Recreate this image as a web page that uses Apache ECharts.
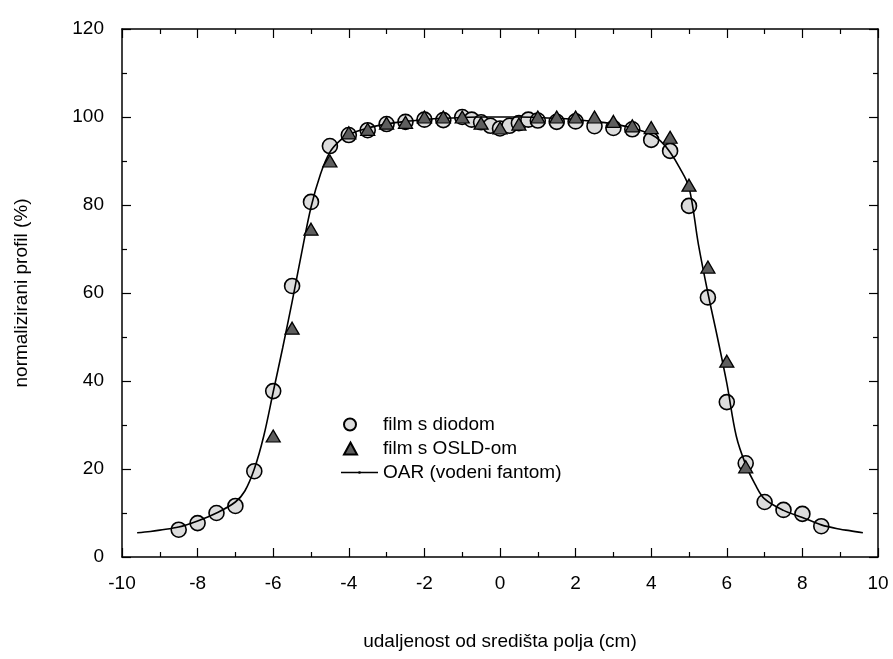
<!DOCTYPE html>
<html>
<head>
<meta charset="utf-8">
<script src="https://cdn.jsdelivr.net/npm/echarts@6/dist/echarts.min.js"></script>
<style>
html,body{margin:0;padding:0;background:#fff;}
#c{width:893px;height:659px;}
</style>
</head>
<body>
<div id="c"></div>
<script>
// film s diodom (circles)
const diodeX = [-8.5,-8,-7.5,-7,-6.5,-6,-5.5,-5,-4.5,-4,-3.5,-3,-2.5,-2,-1.5,-1,-0.75,-0.5,-0.25,0,0.25,0.5,0.75,1,1.5,2,2.5,3,3.5,4,4.5,5,5.5,6,6.5,7,7.5,8,8.5];
const diodeY = [6.2,7.7,10,11.6,19.5,37.7,61.6,80.7,93.4,95.9,97,98.4,98.9,99.4,99.3,100,99.4,98.8,98,97.4,98,98.6,99.4,99.2,98.9,99,97.9,97.5,97.2,94.8,92.3,79.8,59,35.2,21.3,12.5,10.7,9.8,7];
// film s OSLD-om (triangles)
const osldX = [-6,-5.5,-5,-4.5,-4,-3.5,-3,-2.5,-2,-1.5,-1,-0.5,0,0.5,1,1.5,2,2.5,3,3.5,4,4.5,5,5.5,6,6.5];
const osldY = [27.5,52,74.5,90,96.4,97.2,98.6,98.8,100,100,100,98.6,97.5,98.4,100,100,100,100,99,98,97.6,95.4,84.5,65.9,44.5,20.5];
// OAR (vodeni fantom) line
const oarX = [-9.6,-9.25,-9,-8.5,-8,-7.5,-7,-6.75,-6.5,-6.25,-6,-5.75,-5.5,-5.25,-5,-4.75,-4.5,-4.25,-4,-3.5,-3,-2.5,-2,-1.5,-1,-0.5,0,0.5,1,1.5,2,2.5,3,3.5,4,4.25,4.5,4.75,5,5.25,5.5,5.75,6,6.25,6.5,6.75,7,7.5,8,8.5,9,9.25,9.6];
const oarY = [5.5,5.8,6.1,6.8,8.2,10,12.5,15,20,27.5,37.5,47.5,58,69,79.5,87,92,94.5,96,97.5,98.4,99,99.4,99.7,99.9,100,100,100,99.9,99.7,99.4,99,98.4,97.5,96,94.5,92,88.5,84,71,60,50,39.5,27.5,21,16.5,13.2,10.6,9,7.3,6.3,6,5.5];

const xTicks = [-10,-8,-6,-4,-2,0,2,4,6,8,10];
const yTicks = [0,20,40,60,80,100,120];

const names = ['film s diodom','film s OSLD-om','OAR (vodeni fantom)'];
const zip = (a,b) => a.map((v,i)=>[v,b[i]]);
const font = 'Liberation Sans, Arial, sans-serif';
const txt = {fontFamily:font,fontSize:19,color:'#000'};

const chart = echarts.init(document.getElementById('c'), null, {renderer:'canvas'});
const axisCommon = {
  axisLine:{show:true,onZero:false,lineStyle:{color:'#000',width:1.5}},
  axisTick:{show:true,inside:true,length:9,lineStyle:{color:'#000',width:1.2}},
  minorTick:{show:true,splitNumber:2,length:5,lineStyle:{color:'#000',width:1.2}},
  splitLine:{show:false}
};
const legendBase = {orient:'vertical',itemGap:0,selectedMode:false,textStyle:Object.assign({},txt)};
chart.setOption({
  animation:false,
  backgroundColor:'#fff',
  grid:{left:122,right:15,top:29,bottom:102},
  legend:[
    Object.assign({},legendBase,{left:338,top:410,itemWidth:12,itemHeight:12,
      textStyle:Object.assign({},txt,{padding:[0,0,0,22]}),
      data:[{name:names[0],icon:'circle'}]}),
    Object.assign({},legendBase,{left:338,top:434,itemWidth:13,itemHeight:12,
      textStyle:Object.assign({},txt,{padding:[0,0,0,21]}),
      data:[{name:names[1],icon:'triangle'}]}),
    Object.assign({},legendBase,{left:336,top:458,itemWidth:37,itemHeight:10,
      data:[{name:names[2],icon:'path://M0 0.2 L36 0.2 L36 1.8 L0 1.8 Z M17 -0.3 L19 -0.3 L19 2.3 L17 2.3 Z',
        itemStyle:{color:'#000',borderWidth:0}}]})
  ],
  xAxis:[
    Object.assign({type:'value',min:-10,max:10,interval:2,position:'bottom',
      name:'udaljenost od središta polja (cm)',nameLocation:'middle',nameGap:75,
      nameTextStyle:txt,
      axisLabel:Object.assign({margin:17,formatter:v=>xTicks.includes(v)?String(v):''},txt)}, axisCommon),
    Object.assign({type:'value',min:-10,max:10,interval:2,position:'top',axisLabel:{show:false}}, axisCommon)
  ],
  yAxis:[
    Object.assign({type:'value',min:0,max:120,interval:20,position:'left',
      name:'normalizirani profil (%)',nameLocation:'middle',nameGap:91,
      nameTextStyle:txt,
      axisLabel:Object.assign({margin:18,formatter:v=>yTicks.includes(v)?String(v):''},txt)}, axisCommon),
    Object.assign({type:'value',min:0,max:120,interval:20,position:'right',axisLabel:{show:false}}, axisCommon)
  ],
  series:[
    {name:names[0],type:'scatter',data:zip(diodeX,diodeY),symbol:'circle',symbolSize:15,z:2,
      itemStyle:{color:'#dcdcdc',borderColor:'#000',borderWidth:1.6,opacity:1}},
    {name:names[2],type:'line',data:zip(oarX,oarY),smooth:0.35,showSymbol:false,symbol:'none',z:3,
      itemStyle:{color:'#000'},lineStyle:{color:'#000',width:1.6}},
    {name:names[1],type:'scatter',data:zip(osldX,osldY),symbol:'triangle',symbolSize:[14,12],z:4,
      itemStyle:{color:'#5e5e5e',borderColor:'#000',borderWidth:1.3,opacity:1}}
  ]
});
</script>
</body>
</html>
